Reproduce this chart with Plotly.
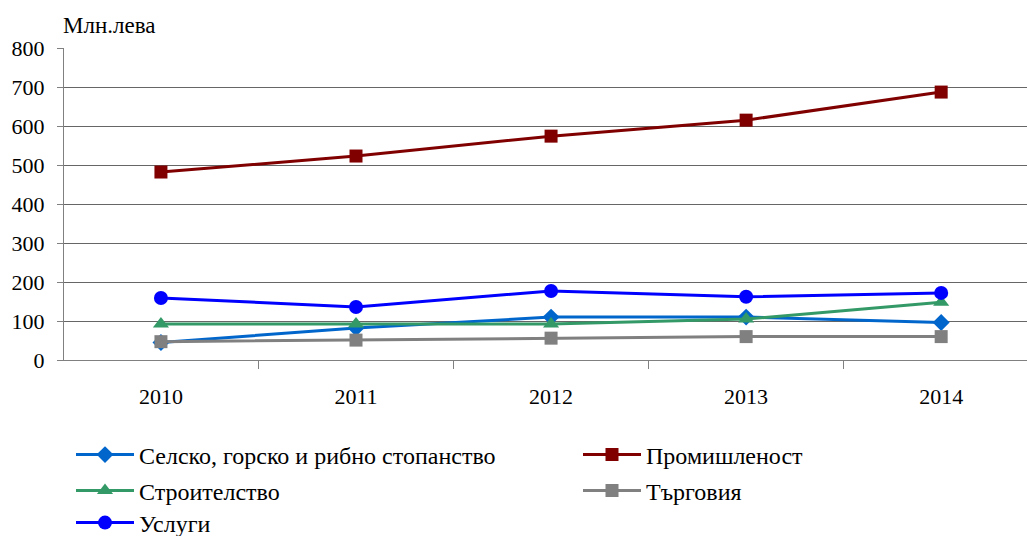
import plotly.graph_objects as go

years = [2010, 2011, 2012, 2013, 2014]
year_labels = ["2010", "2011", "2012", "2013", "2014"]

names = [
    "Селско, горско и рибно стопанство",
    "Промишленост",
    "Строителство",
    "Търговия",
    "Услуги",
]
selsko = [45, 82, 110, 110, 96]
promishlenost = [482, 523, 574, 615, 687]
stroitelstvo = [92, 92, 92, 105, 148]
targoviya = [47, 51, 56, 60, 60]
uslugi = [159, 136, 177, 162, 172]

series = [selsko, promishlenost, stroitelstvo, targoviya, uslugi]
colors = ["#0066CC", "#800000", "#339966", "#808080", "#0000FF"]
symbols = ["diamond", "square", "triangle-up", "square", "circle"]
sizes = [13, 13, 14, 13, 14]
legend_ids = ["legend", "legend2", "legend3", "legend4", "legend5"]
# legend item anchor positions (container px): (x of legend box, y of row centre)
legend_pos = [(71, 455), (578, 455), (71, 491), (578, 491), (71, 523)]

FONT = "Liberation Serif"
FS = 22
FS_LEG = 24
W, H = 1027, 536

fig = go.Figure()
for name, vals, c, s, sz, lg in zip(names, series, colors, symbols, sizes, legend_ids):
    fig.add_trace(go.Scatter(
        x=years, y=vals, name=name, mode="lines+markers",
        line=dict(color=c, width=3),
        marker=dict(color=c, symbol=s, size=sz),
        legend=lg,
    ))

legend_layout = {}
for lg, (px, py) in zip(legend_ids, legend_pos):
    legend_layout[lg] = dict(
        x=px / W, y=1 - py / H, xref="container", yref="container",
        xanchor="left", yanchor="middle", orientation="v",
        font=dict(family=FONT, size=FS_LEG, color="#000"),
        itemwidth=58, bgcolor="rgba(0,0,0,0)",
    )

fig.update_layout(
    width=W, height=H,
    margin=dict(l=64, r=0, t=48, b=176, autoexpand=False),
    paper_bgcolor="white", plot_bgcolor="white",
    font=dict(family=FONT, size=FS, color="#000"),
    showlegend=True,
    xaxis=dict(
        range=[2009.503, 2014.44],
        tickvals=years, ticktext=year_labels,
        ticks="", showgrid=False, zeroline=False,
        showline=True, linecolor="#808080", linewidth=1,
        ticklabelstandoff=17,
        minor=dict(tickvals=[2010.5, 2011.5, 2012.5, 2013.5],
                   ticks="outside", ticklen=8, tickcolor="#808080", showgrid=False),
        tickfont=dict(family=FONT, size=FS, color="#000"),
    ),
    yaxis=dict(
        range=[0, 800], dtick=100,
        showgrid=True, gridcolor="#666666", gridwidth=1,
        zeroline=False,
        showline=True, linecolor="#808080", linewidth=1,
        ticks="outside", ticklen=6, tickcolor="#808080",
        ticklabelstandoff=8,
        tickfont=dict(family=FONT, size=FS, color="#000"),
    ),
    annotations=[dict(
        text="Млн.лева", xref="paper", yref="paper", x=-0.003, y=1.0,
        yshift=23, xanchor="left", yanchor="middle", showarrow=False,
        font=dict(family=FONT, size=23, color="#000"),
    )],
    **legend_layout,
)

fig.write_html(
    "out.html",
    config={"displayModeBar": False},
    post_script="document.body.style.margin='0';document.body.style.padding='0';",
)
